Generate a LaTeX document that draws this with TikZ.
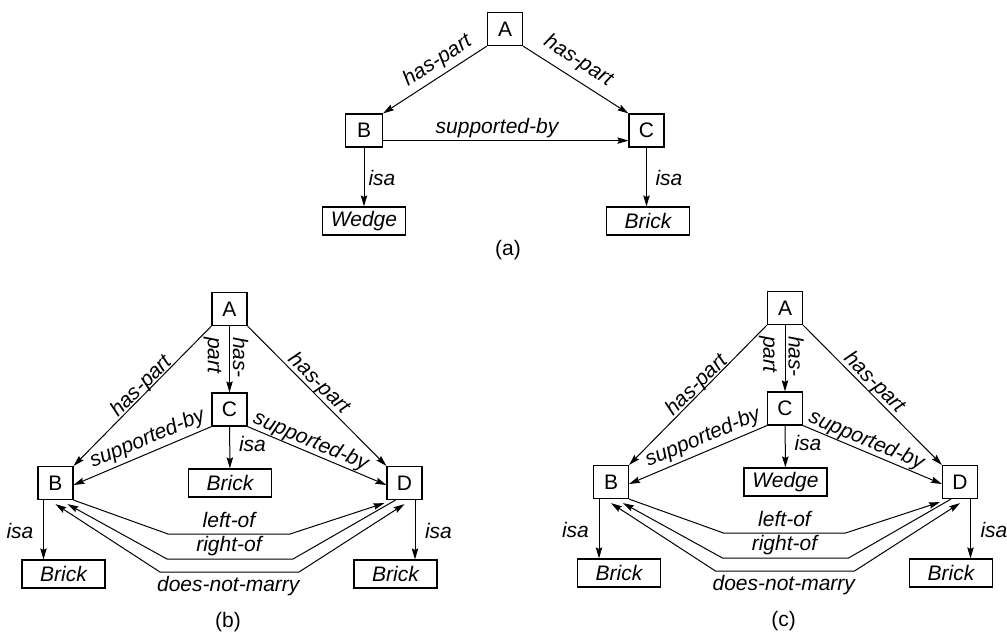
\documentclass[tikz,border=0pt]{standalone}
\usepackage{fontspec}
\setmainfont{Liberation Sans}
\usetikzlibrary{arrows.meta,calc}
\tikzset{
  txt/.style={font=\fontsize{10.5}{12.6}\selectfont},
  box/.style={txt, draw, line width=0.6pt, minimum width=17.5pt, minimum height=16.5pt, inner sep=0pt},
  wide/.style={box, minimum width=41.5pt, minimum height=14pt, font=\fontsize{10.5}{12.6}\selectfont\itshape},
  lbl/.style={inner sep=0pt, font=\fontsize{10.5}{12.6}\selectfont\itshape},
  captext/.style={txt, inner sep=0pt},
  tip/.tip={Stealth[length=5.5pt,width=3.2pt,inset=0.8pt]},
  rel/.style={line width=0.5pt, -tip},
  revrel/.style={line width=0.5pt, -tip},
  bidir/.style={line width=0.5pt, tip-tip}
}
\newcommand\drawpanel[5]{% #1 prefix, #2 middle word, #3 caption, #4 xshift, #5 yshift
\begin{scope}[shift={(#4,#5)}]
  \node[box] (#1A) at (229.5,309) {A};
  \node[box] (#1C) at (229.5,409.5) {C};
  \node[box] (#1B) at (55.5,483) {B};
  \node[box] (#1D) at (404.5,483) {D};
  \node[wide] (#1M) at (230,483) {#2};
  \node[wide] (#1BK) at (63.5,574) {Brick};
  \node[wide] (#1DK) at (395.5,574) {Brick};
  % has-part
  \draw[rel] (#1A.south west) -- (#1B.north east);
  \draw[rel] (#1A.south east) -- (#1D.north west);
  \draw[rel] (#1A) -- (#1C);
  % supported-by
  \draw[rel] (#1C.south west) -- ($(#1B.east)+(0,2)$);
  \draw[rel] (#1C.south east) -- ($(#1D.west)+(0,2)$);
  % isa
  \draw[rel] (#1C) -- (#1M);
  \draw[rel] ($(#1B.south)+(-12,0)$) coordinate (#1b1) -- (#1b1 |- #1BK.north);
  \draw[rel] ($(#1D.south)+(10.5,0)$) coordinate (#1d1) -- (#1d1 |- #1DK.north);
  % left-of, right-of, does-not-marry
  \draw[rel] (#1B.south east) -- (168,534) -- (290,534) -- ($(#1D.south west)+(-2,3)$);
  \draw[rel] ($(#1D.south)+(-9,0)$) -- (293,559) -- (167,559) -- ($(#1B.south)+(12,4)$);
  \draw[bidir] ($(#1B.south)+(0,4)$) -- (160,572) -- (299,572) -- ($(#1D.south)+(0,4)$);
  % labels
  \node[lbl, rotate=44.7] (#1l1) at (141.7,386.7) {has-part};
  \node[lbl, rotate=-44.7] (#1l2) at (319,384) {has-part};
  \node[lbl, rotate=-90, align=left] (#1l3) at (226,357.5) {has-\\part};
  \node[lbl, rotate=23] (#1l4) at (147.5,439) {supported-by};
  \node[lbl, rotate=-22.8] (#1l5) at (310.8,441.7) {supported-by};
  \node[lbl] (#1l6) at (252.5,443.5) {isa};
  \node[lbl] (#1l7) at (20,531) {isa};
  \node[lbl] (#1l8) at (438.5,531) {isa};
  \node[lbl] (#1l9) at (229,520) {left-of};
  \node[lbl] (#1l10) at (229,546.5) {right-of};
  \node[lbl] (#1l11) at (228.3,586.5) {does-not-marry};
  \node[captext] (#1cap) at (228,622) {#3};
\end{scope}}
\begin{document}
\begin{tikzpicture}[x=0.5pt,y=-0.5pt]
\useasboundingbox (0,0) rectangle (1007,634);
\fill[white] (0,0) rectangle (1007,634);
% ---------- panel (a) ----------
\node[box] (aA) at (505,29) {A};
\node[box, minimum width=18.5pt] (aB) at (364,130.5) {B};
\node[box] (aC) at (646.5,130.5) {C};
\node[wide] (aW) at (364,221) {Wedge};
\node[wide] (aK) at (648,221) {Brick};
\draw[rel] (aA.south west) -- (aB.north east);
\draw[rel] (aA.south east) -- (aC.north west);
\draw[rel] ($(aB.south east)+(0,-7)$) -- ($(aC.south west)+(0,-7)$);
\draw[rel] (aB) -- (aW);
\draw[rel] (aC.south) -- (aC.south |- aK.north);
\node[lbl, rotate=32.7] (al1) at (437.5,61) {has-part};
\node[lbl, rotate=-32.4] (al2) at (578.3,61) {has-part};
\node[lbl] (al3) at (497,128) {supported-by};
\node[lbl] (al4) at (382,178) {isa};
\node[lbl] (al5) at (669,178) {isa};
\node[captext] (acap) at (508,250) {(a)};
% ---------- panels (b) and (c) ----------
\drawpanel{b}{Brick}{(b)}{0}{0}
\drawpanel{c}{Wedge}{(c)}{555.5}{-1}
\end{tikzpicture}
\end{document}
